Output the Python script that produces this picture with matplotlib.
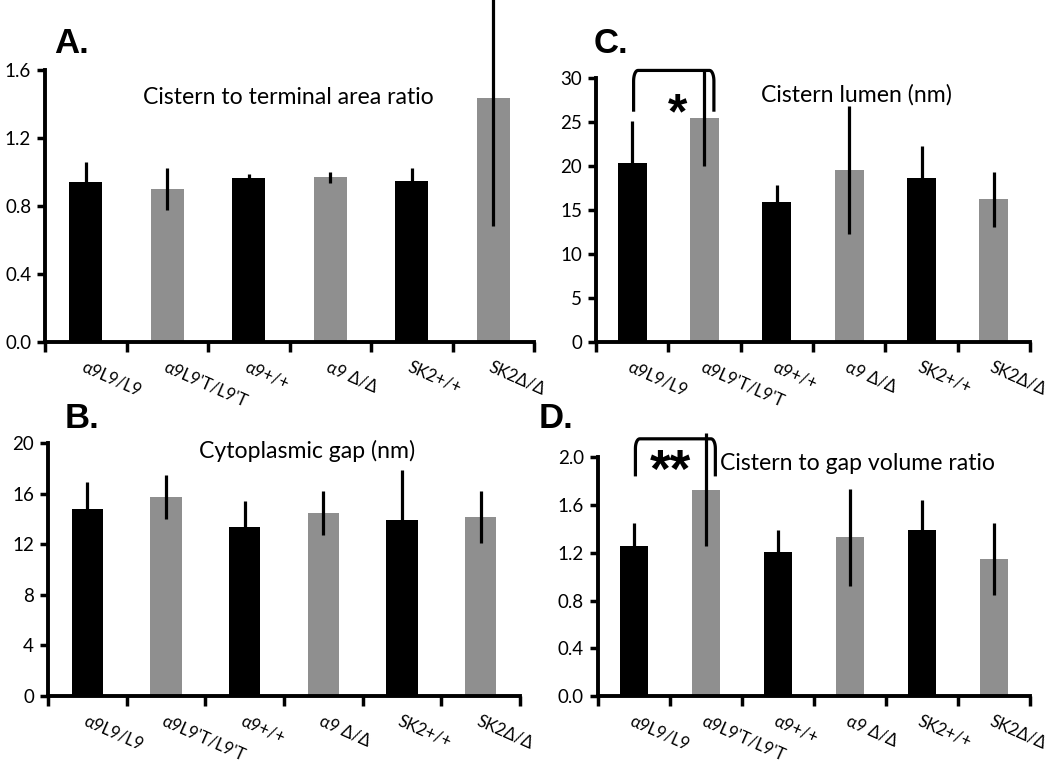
import matplotlib.pyplot as plt
import numpy as np

plt.rcParams['font.family'] = ['Lato', 'DejaVu Sans']

# genotype groups, same in every panel
groups = ["α9L9/L9", "α9L9'T/L9'T", "α9+/+", "α9 Δ/Δ", "SK2+/+", "SK2Δ/Δ"]
bar_colors = ['black', '#8f8f8f', 'black', '#8f8f8f', 'black', '#8f8f8f']

# A. cistern to terminal area ratio
area_ratio = [0.94, 0.90, 0.965, 0.97, 0.945, 1.435]
area_ratio_err = [0.12, 0.125, 0.025, 0.032, 0.08, 0.75]

# B. cytoplasmic gap (nm)
gap = [14.8, 15.75, 13.35, 14.5, 13.95, 14.15]
gap_err = [2.15, 1.72, 2.1, 1.75, 3.95, 2.05]

# C. cistern lumen (nm)
lumen = [20.3, 25.45, 15.95, 19.55, 18.65, 16.2]
lumen_err = [4.8, 5.4, 1.9, 7.3, 3.6, 3.1]

# D. cistern to gap volume ratio
vol_ratio = [1.26, 1.73, 1.21, 1.33, 1.39, 1.15]
vol_ratio_err = [0.19, 0.47, 0.18, 0.405, 0.25, 0.3]

fig = plt.figure(figsize=(10.5, 7.65), dpi=100)


def panel(rect, vals, errs, ymax, yticks, fmt, title, title_xy, letter, letter_xy):
    ax = fig.add_axes(rect)
    x = np.arange(len(groups))
    ax.bar(x, vals, width=0.4, color=bar_colors, zorder=2)
    ax.errorbar(x, vals, yerr=errs, fmt='none', ecolor='black', elinewidth=2.3,
                capsize=0, zorder=3, clip_on=False)
    ax.set_xlim(-0.5, 5.5)
    ax.set_ylim(0, ymax)
    ax.set_yticks(yticks)
    ax.set_yticklabels([fmt.format(v) for v in yticks], fontsize=13.5)
    ax.set_xticks(x)
    ax.set_xticklabels(groups, fontsize=12, rotation=-24, ha='left',
                       rotation_mode='anchor')
    ax.set_xticks(np.arange(-0.5, 6, 1), minor=True)
    ax.tick_params(axis='x', which='major', length=0, pad=12)
    ax.tick_params(axis='x', which='minor', length=7, width=2.5, direction='out')
    ax.tick_params(axis='y', length=6, width=2.5, direction='out', pad=4)
    for s in ['top', 'right']:
        ax.spines[s].set_visible(False)
    for s in ['left', 'bottom']:
        ax.spines[s].set_linewidth(2.8)
    ax.text(title_xy[0], title_xy[1], title, transform=ax.transAxes,
            fontsize=16.6, ha='center', va='center')
    fig.text(letter_xy[0], letter_xy[1], letter, fontsize=25, fontweight='bold',
             family='Liberation Sans', ha='left', va='bottom')
    return ax


axA = panel([0.0429, 0.5529, 0.4657, 0.3556], area_ratio, area_ratio_err, 1.6,
            [0.0, 0.4, 0.8, 1.2, 1.6], '{:.1f}', 'Cistern to terminal area ratio',
            (0.497, 0.9), 'A.', (0.052, 0.922))
axB = panel([0.0457, 0.0902, 0.4495, 0.3303], gap, gap_err, 20,
            [0, 4, 8, 12, 16, 20], '{:d}', 'Cytoplasmic gap (nm)',
            (0.548, 0.97), 'B.', (0.062, 0.432))
axC = panel([0.5676, 0.5533, 0.4134, 0.3443], lumen, lumen_err, 30,
            [0, 5, 10, 15, 20, 25, 30], '{:d}', 'Cistern lumen (nm)',
            (0.6, 0.937), 'C.', (0.565, 0.922))
axD = panel([0.5695, 0.0902, 0.4115, 0.3120], vol_ratio, vol_ratio_err, 2.0,
            [0.0, 0.4, 0.8, 1.2, 1.6, 2.0], '{:.1f}', 'Cistern to gap volume ratio',
            (0.60, 0.976), 'D.', (0.513, 0.432))


def bracket(ax, x0, x1, ytop, ybot, r):
    # rounded-corner bracket between two bars
    t = np.linspace(0, np.pi / 2, 10)
    dx = 0.06
    left_x = x0 + dx * (1 - np.cos(t))
    left_y = ytop - r * (1 - np.sin(t))
    right_x = x1 - dx * (1 - np.cos(t[::-1]))
    right_y = ytop - r * (1 - np.sin(t[::-1]))
    xs = np.concatenate([[x0], left_x, right_x, [x1]])
    ys = np.concatenate([[ybot], left_y, right_y, [ybot]])
    ax.plot(xs, ys, color='black', lw=2.3, clip_on=False, solid_capstyle='butt')


bracket(axC, 0.02, 1.13, 30.9, 26.2, 1.2)
axC.text(0.63, 25.8, '*', fontsize=36, fontweight='bold', family='Liberation Sans',
         ha='center', va='center')

bracket(axD, 0.02, 1.13, 2.155, 1.84, 0.08)
axD.text(0.51, 1.87, '**', fontsize=38, fontweight='bold', family='Liberation Sans',
         ha='center', va='center')

plt.savefig('out.png', dpi=100)
